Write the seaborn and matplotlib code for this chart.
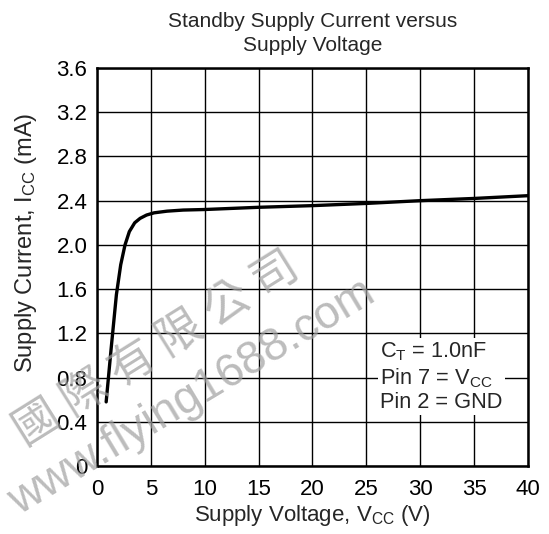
import matplotlib
matplotlib.use("Agg")
import matplotlib.pyplot as plt
import seaborn as sns
import pandas as pd

# values
supply_voltage = [0.85, 1.3, 1.8, 2.2, 2.6, 3.0, 3.5, 4.0, 4.6, 5.3, 6.5, 8, 10, 15, 20, 25, 30, 35, 40]
supply_current = [0.58, 1.05, 1.55, 1.82, 2.0, 2.12, 2.2, 2.24, 2.27, 2.29, 2.305, 2.315, 2.32, 2.34, 2.355, 2.375, 2.40, 2.42, 2.445]

x_ticks = [0, 5, 10, 15, 20, 25, 30, 35, 40]
y_ticks = [0, 0.4, 0.8, 1.2, 1.6, 2.0, 2.4, 2.8, 3.2, 3.6]
y_tick_labels = ["0", "0.4", "0.8", "1.2", "1.6", "2.0", "2.4", "2.8", "3.2", "3.6"]

df = pd.DataFrame({"vcc": supply_voltage, "icc": supply_current})

sns.set_style("white")
plt.rcParams["font.family"] = ["Liberation Sans", "Noto Sans CJK TC", "DejaVu Sans"]
plt.rcParams["mathtext.fontset"] = "custom"
plt.rcParams["mathtext.rm"] = "Liberation Sans"
plt.rcParams["mathtext.it"] = "Liberation Sans"

fig = plt.figure(figsize=(5.49, 5.34), dpi=100)
ax = fig.add_axes([0.1767, 0.1273, 0.785, 0.7454])

sns.lineplot(data=df, x="vcc", y="icc", ax=ax, color="black", linewidth=2.4, zorder=3)

ax.set_xlim(0, 40)
ax.set_ylim(0, 3.6)
ax.set_xticks(x_ticks)
ax.set_yticks(y_ticks)
ax.set_yticklabels(y_tick_labels)
ax.tick_params(axis="y", length=0, labelsize=16, colors="black", pad=7)
ax.tick_params(axis="x", length=0, labelsize=16, colors="black", pad=9.5)
ax.grid(True, color="black", linewidth=1.0)
for s in ax.spines.values():
    s.set_color("black")
    s.set_linewidth(1.8)
    s.set_zorder(4)

ax.set_xlabel(r"Supply Voltage, V$_{\mathrm{CC}}$ (V)", fontsize=16, labelpad=2)
ax.set_ylabel(r"Supply Current, I$_{\mathrm{CC}}$ (mA)", fontsize=17)
ax.yaxis.set_label_coords(-0.135, 0.56)
ax.set_title("Standby Supply Current versus\nSupply Voltage", fontsize=15, pad=12, linespacing=1.35)

ax.text(0.657, 0.133, "C$_{\\mathrm{T}}$ = 1.0nF\nPin 7 = V$_{\\mathrm{CC}}$\nPin 2 = GND",
        transform=ax.transAxes, fontsize=15.7, va="bottom", ha="left", linespacing=1.15,
        bbox=dict(facecolor="white", edgecolor="none", pad=1.5), zorder=5)

# watermark
fig.text(0.045, 0.165, "國 際 有 限 公 司", fontsize=33, color="#a0a0a0", alpha=0.7,
         rotation=32, rotation_mode="anchor", family=["Noto Sans CJK TC", "DejaVu Sans"])
fig.text(0.035, 0.035, "www.flying1688.com", fontsize=33, color="#a0a0a0", alpha=0.7,
         rotation=31, rotation_mode="anchor")

fig.savefig("out.png", dpi=100)
